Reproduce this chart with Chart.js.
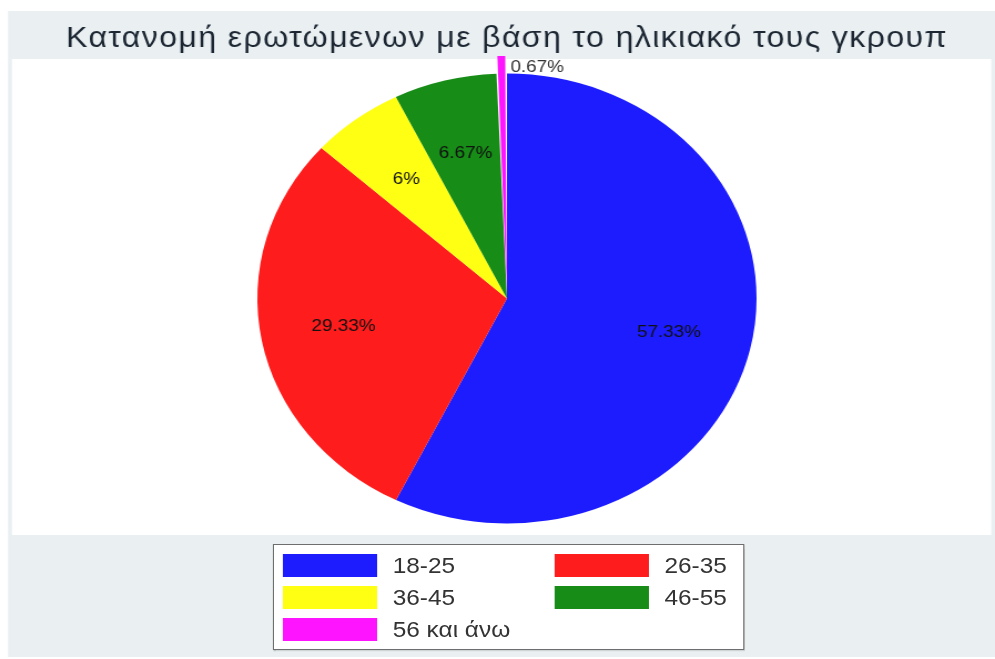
<!DOCTYPE html>
<html>
<head>
<meta charset="utf-8">
<script src="https://cdn.jsdelivr.net/npm/chart.js@4.4.1/dist/chart.umd.min.js"></script>
<style>
  body { margin: 0; background: #fff; }
  /* the reference is a stretched export, so the whole figure is drawn narrow and widened */
  #wrap { position: absolute; left: 0; top: 0; width: 897px; height: 659px; transform: scale(1.1093, 1); transform-origin: 0 0; }
  #legend { position: absolute; left: 246px; top: 544px; width: 425px; height: 106px; box-sizing: border-box;
            background: #fff; border: 1px solid #6e6e6e; box-shadow: 1px 1px 1px rgba(0,0,0,0.25);
            font-family: "Liberation Sans", Arial, sans-serif; font-size: 22px; color: #333; }
  .item { position: absolute; height: 23px; line-height: 23px; white-space: nowrap; }
  .swatch { position: absolute; left: 0; top: 0; width: 85px; height: 23px; }
  .label { position: absolute; left: 99px; top: 0; }
</style>
</head>
<body>
<div id="wrap">
  <canvas id="pie" width="897" height="659"></canvas>
  <div id="legend"></div>
</div>
<script>
const chartTitle = 'Κατανομή ερωτώμενων με βάση το ηλικιακό τους γκρουπ';
const ageGroups = ['18-25', '26-35', '36-45', '46-55', '56 και άνω'];
const shares = [57.33, 29.33, 6, 6.67, 0.67];
const sliceColors = ['#1c1cff', '#ff1c1c', '#ffff14', '#178c17', '#ff14ff'];
const explode = [0, 0, 0, 0, 36];

// gray graph region with white plot region, like the stata scheme
const backdrop = {
  id: 'backdrop',
  beforeDraw(chart) {
    const ctx = chart.ctx;
    ctx.save();
    ctx.fillStyle = '#eaf0f2';
    ctx.fillRect(7.2, 11, 890, 646);
    ctx.fillStyle = '#ffffff';
    ctx.fillRect(10.8, 59, 882.7, 476);
    ctx.restore();
    // title is drawn next, a bit wider spaced
    ctx.letterSpacing = '1.2px';
  },
  beforeDatasetsDraw(chart) {
    chart.ctx.letterSpacing = '0px';
  }
};

// percent labels at 2/3 of the radius, tiny slices get theirs outside
const sliceLabels = {
  id: 'sliceLabels',
  afterDatasetsDraw(chart) {
    const ctx = chart.ctx;
    const meta = chart.getDatasetMeta(0);
    ctx.save();
    ctx.font = '17px "Liberation Sans", Arial, sans-serif';
    ctx.textBaseline = 'middle';
    meta.data.forEach((arc, i) => {
      const p = arc.getProps(['x', 'y', 'startAngle', 'endAngle', 'outerRadius'], true);
      const mid = (p.startAngle + p.endAngle) / 2;
      const txt = shares[i] + '%';
      if (shares[i] < 2) {
        const d = p.outerRadius + 6.5;
        ctx.textAlign = 'left';
        ctx.fillStyle = '#333';
        ctx.fillText(txt, p.x + Math.cos(mid) * d + 8, p.y + Math.sin(mid) * d);
      } else {
        const d = p.outerRadius * 2 / 3;
        ctx.textAlign = 'center';
        ctx.fillStyle = '#111';
        ctx.fillText(txt, p.x + Math.cos(mid) * d, p.y + Math.sin(mid) * d);
      }
    });
    ctx.restore();
  }
};

new Chart(document.getElementById('pie'), {
  type: 'pie',
  data: {
    labels: ageGroups,
    datasets: [{
      data: shares,
      backgroundColor: sliceColors,
      borderWidth: 0,
      radius: 225,
      offset: explode
    }]
  },
  options: {
    responsive: false,
    animation: false,
    devicePixelRatio: 1,
    layout: { padding: { left: 17, right: 0, top: 0, bottom: 118.4 } },
    plugins: {
      legend: { display: false },
      tooltip: { enabled: false },
      title: {
        display: true,
        text: chartTitle,
        color: '#1c2733',
        font: { family: '"Liberation Sans", Arial, sans-serif', size: 29, weight: 'normal', lineHeight: 1.2 },
        padding: { top: 21.6, bottom: 0 }
      }
    }
  },
  plugins: [backdrop, sliceLabels]
});

// legend box in two columns
const legend = document.getElementById('legend');
ageGroups.forEach((g, i) => {
  const item = document.createElement('div');
  item.className = 'item';
  item.style.left = (i % 2 === 0 ? 8 : 253) + 'px';
  item.style.top = (9 + Math.floor(i / 2) * 32) + 'px';
  const sw = document.createElement('span');
  sw.className = 'swatch';
  sw.style.background = sliceColors[i];
  const lb = document.createElement('span');
  lb.className = 'label';
  lb.textContent = g;
  item.appendChild(sw);
  item.appendChild(lb);
  legend.appendChild(item);
});
</script>
</body>
</html>
